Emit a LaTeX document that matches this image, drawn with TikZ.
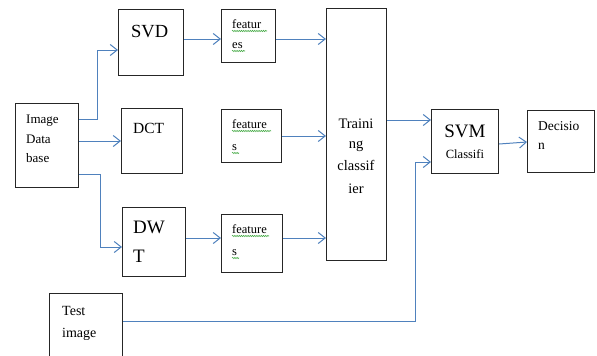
\documentclass[tikz,border=0pt]{standalone}
\usepackage{fontspec}
\setmainfont{Liberation Serif}
\usetikzlibrary{arrows.meta,decorations.pathmorphing}
\definecolor{arr}{RGB}{79,129,189}
\definecolor{sq}{RGB}{70,170,70}
\tikzset{
  box/.style={draw=black!85, line width=1.2pt, inner sep=0pt, anchor=north west},
  conn/.style={draw=arr, line width=1pt, -{Straight Barb[length=7pt,width=11pt,line width=1pt]}},
  txt/.style={anchor=base west, inner sep=0pt},
  ctxt/.style={anchor=base, inner sep=0pt},
  squig/.style={draw=sq, line width=0.6pt, decorate, decoration={snake, amplitude=0.6pt, segment length=2.2pt}}
}
\newcommand{\fs}[1]{\fontsize{#1}{#1}\selectfont}
\begin{document}
\begin{tikzpicture}[x=1pt,y=-1pt]
\useasboundingbox (0,0) rectangle (597,356);
\clip (0,0) rectangle (597,356);
% boxes
\node[box, minimum width=63pt, minimum height=84pt] (db) at (15,103) {};
\node[box, minimum width=65pt, minimum height=66pt] (svd) at (118,9) {};
\node[box, minimum width=61pt, minimum height=65pt] (dct) at (121,108) {};
\node[box, minimum width=63pt, minimum height=69pt] (dwt) at (122,207) {};
\node[box, minimum width=54pt, minimum height=53pt] (f1) at (221,9) {};
\node[box, minimum width=60pt, minimum height=53pt] (f2) at (221,109) {};
\node[box, minimum width=61pt, minimum height=58pt] (f3) at (221,214) {};
\node[box, minimum width=60pt, minimum height=252pt] (train) at (326,8) {};
\node[box, minimum width=67pt, minimum height=64pt] (svm) at (431,109) {};
\node[box, minimum width=67pt, minimum height=62pt] (dec) at (527,110) {};
\node[box, minimum width=73pt, minimum height=77pt] (test) at (49,293) {};
% texts
\node[txt] (t1) at (26,123) {\fs{13}Image};
\node[txt] (t2) at (26,143) {\fs{13}Data};
\node[txt] (t3) at (26,162) {\fs{13}base};
\node[txt] (t4) at (131,37) {\fs{18.5}SVD};
\node[txt] (t5) at (133,133) {\fs{15.5}DCT};
\node[txt] (t6) at (133,233) {\fs{19}DW};
\node[txt] (t7) at (133,262) {\fs{19}T};
\node[txt] (t8) at (232,28) {\fs{12.5}featur};
\node[txt] (t9) at (232,48) {\fs{12.5}es};
\node[txt] (t10) at (232,128) {\fs{12.5}feature};
\node[txt] (t11) at (232,150) {\fs{12.5}s};
\node[txt] (t12) at (232,233) {\fs{12.5}feature};
\node[txt] (t13) at (232,255) {\fs{12.5}s};
\node[ctxt] (t14) at (356,128) {\fs{14.5}Traini};
\node[ctxt] (t15) at (356,148) {\fs{14.5}ng};
\node[ctxt] (t16) at (356,170) {\fs{14.5}classif};
\node[ctxt] (t17) at (356,193) {\fs{14.5}ier};
\node[ctxt] (t18) at (465,137) {\fs{19}SVM};
\node[ctxt] (t19) at (465,158) {\fs{12.5}Classifi};
\node[txt] (t20) at (538,130) {\fs{13.5}Decisio};
\node[txt] (t21) at (538,149) {\fs{13.5}n};
\node[txt] (t22) at (62,315) {\fs{14}Test};
\node[txt] (t23) at (62,337) {\fs{14}image};
% spell-check squiggles
\draw[squig] (232,31) -- (267,31);
\draw[squig] (232,51) -- (245,51);
\draw[squig] (232,131) -- (271,131);
\draw[squig] (232,153) -- (239,153);
\draw[squig] (232,236) -- (269,236);
\draw[squig] (232,258) -- (239,258);
% connectors
\draw[conn] (db.east |- 0,119) -- (97,119) -- (97,50) -- (svd.west |- 0,50);
\draw[conn] (db.east |- 0,141) -- (dct.west |- 0,141);
\draw[conn] (db.east |- 0,174) -- (100,174) -- (100,247) -- (dwt.west |- 0,247);
\draw[conn] (svd.east |- 0,39) -- (f1.west |- 0,39);
\draw[conn] (f1.east |- 0,39) -- (train.west |- 0,39);
\draw[conn] (f2.east |- 0,136) -- (train.west |- 0,136);
\draw[conn] (dwt.east |- 0,238) -- (f3.west |- 0,238);
\draw[conn] (f3.east |- 0,238) -- (train.west |- 0,238);
\draw[conn] (train.east |- 0,120) -- (svm.west |- 0,120);
\draw[conn] (test.east |- 0,321) -- (415,321) -- (415,162) -- (svm.west |- 0,162);
\draw[conn] (svm.east |- 0,144) -- (dec.west |- 0,142);
\end{tikzpicture}
\end{document}
